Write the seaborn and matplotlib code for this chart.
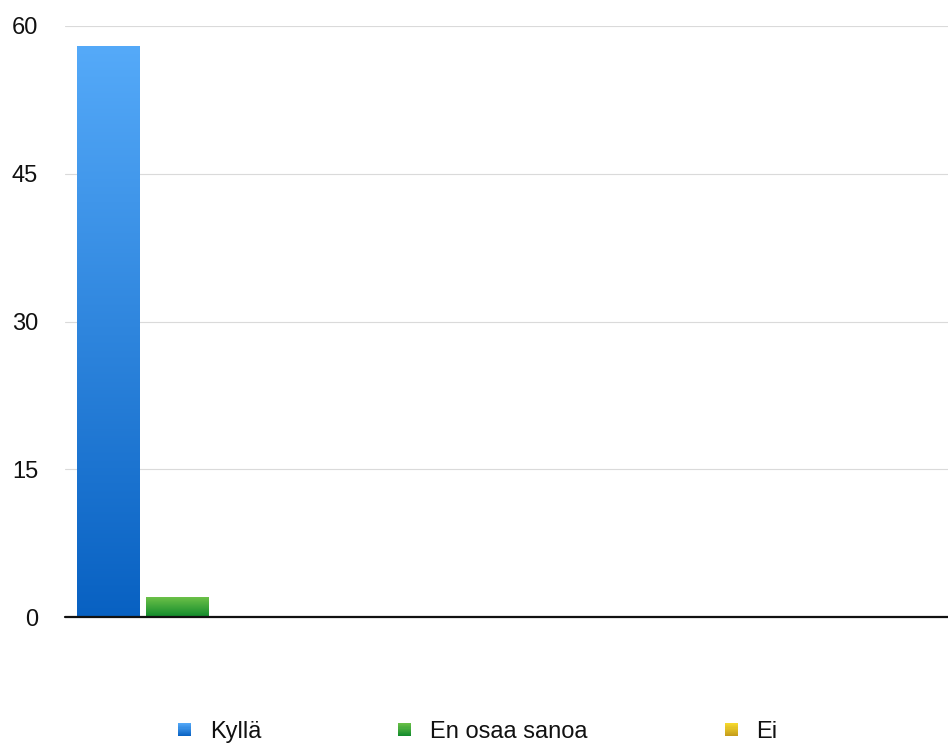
import numpy as np
import pandas as pd
import matplotlib
matplotlib.use("Agg")
import matplotlib.pyplot as plt
from matplotlib.patches import Rectangle
from matplotlib.legend_handler import HandlerBase
from matplotlib.colors import LinearSegmentedColormap
import seaborn as sns

# Survey answers and counts
answers = ["Kyllä", "En osaa sanoa", "Ei"]
counts = [58, 2, 0]
group = [""] * len(answers)
y_ticks = [0, 15, 30, 45, 60]

# Gradient colours per answer: (top, bottom)
gradients = {
    "Kyllä": ("#55aaf9", "#0861c2"),
    "En osaa sanoa": ("#6cc148", "#108a2c"),
    "Ei": ("#f8dc2e", "#c39a1a"),
}
mid_colors = {k: matplotlib.colors.to_hex(
    (np.array(matplotlib.colors.to_rgb(a)) + np.array(matplotlib.colors.to_rgb(b))) / 2)
    for k, (a, b) in gradients.items()}

df = pd.DataFrame({"group": group, "answer": answers, "count": counts})

sns.set_theme(style="white")
plt.rcParams["font.family"] = ["Liberation Sans", "DejaVu Sans"]

fig = plt.figure(figsize=(9.48, 7.49), dpi=100)
ax = fig.add_axes([65 / 948, 132 / 749, 883 / 948, 591 / 749])

sns.barplot(data=df, x="group", y="count", hue="answer", hue_order=answers,
            palette=mid_colors, width=1.0, gap=0.09, legend=False, ax=ax,
            linewidth=0, saturation=1)

xlim = (-0.545, 3.752)
ylim = (0, 60)

# Replace flat fills with vertical gradients clipped to each bar
for patch, ans in zip(ax.patches, answers):
    x0, y0 = patch.get_x(), patch.get_y()
    w, h = patch.get_width(), patch.get_height()
    if h <= 0:
        continue
    top, bottom = gradients[ans]
    cmap = LinearSegmentedColormap.from_list(ans, [bottom, top])
    grad = np.linspace(0, 1, 256).reshape(-1, 1)
    im = ax.imshow(grad, cmap=cmap, origin="lower", aspect="auto",
                   extent=[x0, x0 + w, y0, y0 + h], zorder=2, interpolation="bilinear")
    im.set_clip_path(patch)
    patch.set_facecolor("none")

ax.set_xlim(*xlim)
ax.set_ylim(*ylim)

ax.set_yticks(y_ticks)
ax.set_yticklabels([str(t) for t in y_ticks])
ax.set_xticks([])
ax.set_xlabel("")
ax.set_ylabel("")
ax.tick_params(axis="y", length=0, pad=19.4, labelsize=17, labelcolor="#111111")
for s in ax.spines.values():
    s.set_visible(False)

ax.grid(axis="y", color="#dadada", linewidth=0.8, zorder=0)
ax.set_axisbelow(True)
ax.axhline(0, color="#111111", linewidth=1.6, zorder=3, clip_on=False)


class GradientSwatch:
    def __init__(self, top, bottom):
        self.top = top
        self.bottom = bottom


class GradientHandler(HandlerBase):
    def create_artists(self, legend, orig_handle, xdescent, ydescent,
                       width, height, fontsize, trans):
        s = min(width, height)
        x = -xdescent + (width - s) / 2
        y = -ydescent + (height - s) / 2
        cmap = LinearSegmentedColormap.from_list("g", [orig_handle.bottom, orig_handle.top])
        n = 12
        arts = []
        for i in range(n):
            r = Rectangle((x, y + s * i / n), s, s / n + 0.3,
                          facecolor=cmap((i + 0.5) / n), edgecolor="none",
                          transform=trans)
            arts.append(r)
        return arts


handles = [GradientSwatch(*gradients[a]) for a in answers]
fig.legend(handles, answers, handler_map={GradientSwatch: GradientHandler()},
           loc="center", bbox_to_anchor=(0.504, 0.0227), ncol=3, frameon=False,
           fontsize=17, handlelength=0.55, handleheight=0.55, handletextpad=0.8,
           columnspacing=5.8, borderpad=0, labelcolor="#111111")

fig.savefig("out.png", dpi=100)
